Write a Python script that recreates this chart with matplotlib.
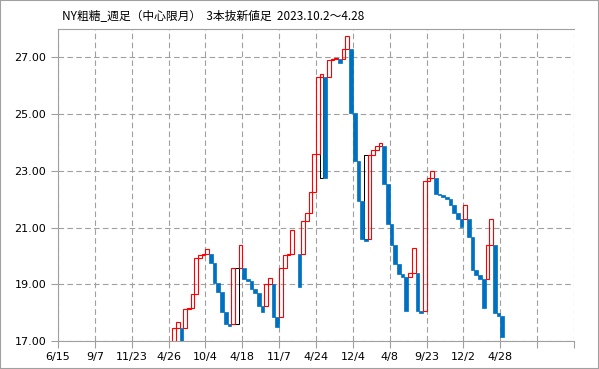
import numpy as np
import matplotlib.pyplot as plt
from matplotlib.patches import Rectangle

plt.rcParams['font.family'] = ['Noto Sans CJK JP', 'DejaVu Sans']

nan = np.nan
# 3本抜新値足, one column per line; 140 columns on the axis, first visible is 31
first_col = 31
opens = [16.5, 17.45, 17.45, 17.45, 18.12, 18.15, 18.65, 19.91, 20.03, 20.05,
         20.05, 19.76, 19.03, 18.71, 18.01, 17.60, 17.60, nan, 19.56, 19.56,
         19.17, 19.10, 18.82, 18.68, 18.23, 18.23, 19.00, 19.00, 17.86, 17.86,
         19.58, 20.02, 20.07, nan, 20.07, 20.07, 21.24, 21.53, 22.24, 23.58,
         26.31, 26.31, 26.31, 26.89, 26.95, 26.95, 26.95, 27.31, 27.31, 25.05,
         23.34, 21.94, 20.58, 20.58, 23.55, 23.75, 23.87, 23.87, 22.55, 21.11,
         20.40, 19.70, 19.35, 19.24, 19.24, 19.38, 19.38, 18.07, 18.07, 22.63,
         22.76, 22.76, 22.20, 22.14, 22.08, 22.00, 21.79, 21.52, 21.30, 21.30,
         21.30, 20.67, 19.50, 19.32, 19.17, 19.17, 20.37, 20.37, 17.98, 17.89]
closes = [17.45, 17.66, 16.6, 18.12, 18.15, 18.65, 19.91, 20.03, 20.05, 20.26,
          19.76, 19.03, 18.71, 18.01, 17.60, 17.54, 19.56, nan, 20.38, 19.17,
          19.10, 18.82, 18.68, 18.23, 18.03, 19.00, 19.21, 17.86, 17.50, 19.58,
          20.02, 20.07, 20.93, nan, 18.91, 21.24, 21.53, 22.24, 23.58, 26.31,
          26.40, 22.76, 26.89, 26.95, 26.99, 26.80, 27.31, 27.74, 25.05, 23.34,
          21.94, 20.58, 20.53, 23.55, 23.75, 23.87, 23.98, 22.55, 21.11, 20.40,
          19.70, 19.35, 19.24, 18.07, 19.38, 20.27, 18.07, 18.00, 22.63, 22.76,
          22.99, 22.20, 22.14, 22.08, 22.00, 21.79, 21.52, 21.30, 21.02, 21.79,
          20.67, 19.50, 19.32, 19.17, 18.17, 20.37, 21.29, 17.98, 17.89, 17.15]

# black outline boxes (turn marks)
black_cols = [48, 71, 83]
black_low = [17.60, 22.76, 20.58]
black_high = [19.56, 26.31, 23.55]

tick_labels = ['6/15', '9/7', '11/23', '4/26', '10/4', '4/18', '11/7',
               '4/24', '12/4', '4/8', '9/23', '12/2', '4/28', '', '']
y_ticks = [17, 19, 21, 23, 25, 27]

title = 'NY粗糖_週足（中心限月）  3本抜新値足  2023.10.2～4.28'

fig = plt.figure(figsize=(5.99, 3.69), dpi=100)
fig.patches.append(Rectangle((0, 0), 1, 1, transform=fig.transFigure,
                             fill=False, edgecolor='#a0a0a0', linewidth=1.5))
ax = fig.add_axes([58 / 599, 28 / 369, 516 / 599, 312 / 369])
ax.set_xlim(0, 140)
ax.set_ylim(17, 28)

for c, lo, hi in zip(black_cols, black_low, black_high):
    ax.add_patch(Rectangle((c, lo), 1, hi - lo, fill=False,
                           edgecolor='black', linewidth=0.75, zorder=3))

for i, (o, c) in enumerate(zip(opens, closes)):
    if np.isnan(o):
        continue
    x = first_col + i
    lo, hi = min(o, c), max(o, c)
    if c > o:
        ax.add_patch(Rectangle((x, lo), 1, hi - lo, fill=False,
                               edgecolor='#ff0000', linewidth=0.8, zorder=4))
    else:
        ax.add_patch(Rectangle((x, lo), 1, hi - lo, facecolor='#0070c0',
                               edgecolor='#0070c0', linewidth=0.5, zorder=4))

ax.set_xticks(range(0, 141, 10))
ax.set_xticklabels(tick_labels, family='DejaVu Sans')
ax.set_yticks(y_ticks)
ax.set_yticklabels(['%.2f' % v for v in y_ticks], family='DejaVu Sans')
ax.grid(True, color='#a0a0a0', linestyle=(0, (5, 3)), linewidth=0.8)
ax.set_axisbelow(True)

for s in ['left', 'bottom', 'top']:
    ax.spines[s].set_color('#a0a0a0')
ax.spines['right'].set_visible(False)
ax.tick_params(colors='#a0a0a0', labelcolor='black', labelsize=8, length=5)
ax.tick_params(axis='x', pad=3)

fig.text(62 / 599, 1 - 17 / 369, title, fontsize=8.5, va='center', ha='left')

fig.savefig('out.png', dpi=100)
